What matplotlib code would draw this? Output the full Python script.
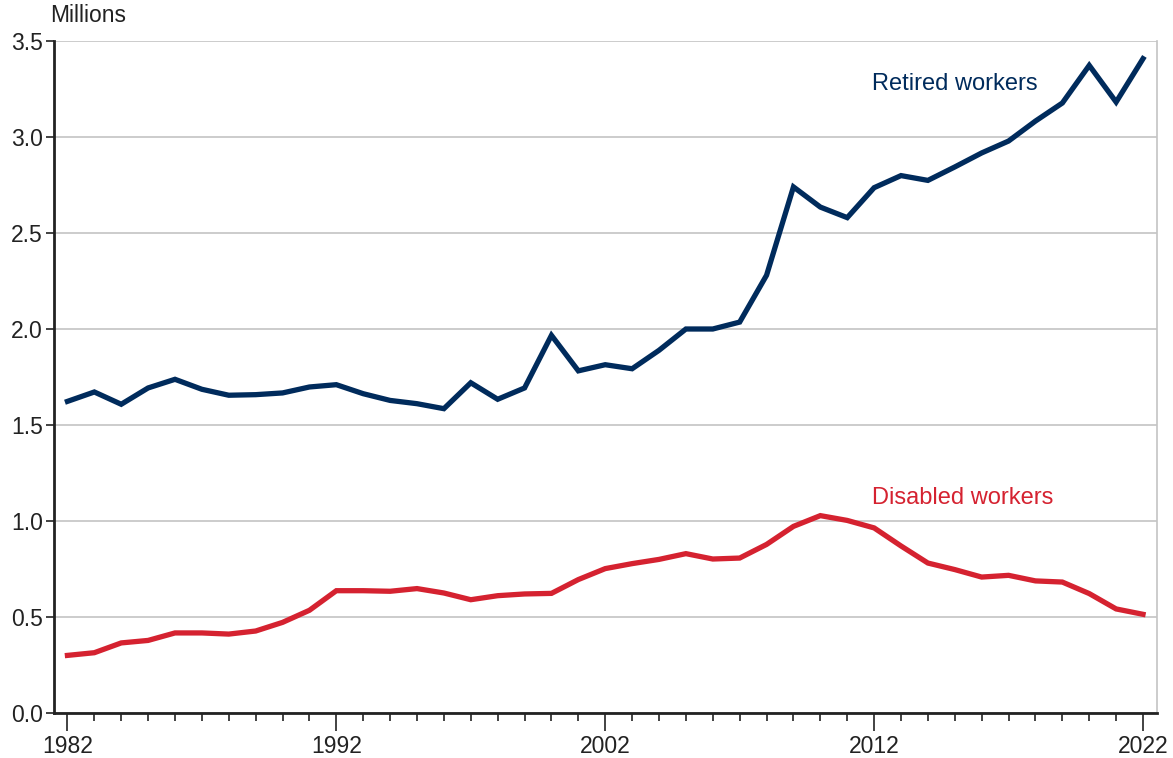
import numpy as np
import matplotlib
matplotlib.use('Agg')
import matplotlib.pyplot as plt
from matplotlib.ticker import FixedLocator

plt.rcParams['font.family'] = ['Liberation Sans', 'DejaVu Sans']

years = list(range(1982, 2023))

retired = [1.623, 1.672, 1.608, 1.693, 1.738, 1.686, 1.655, 1.658, 1.667, 1.698,
           1.710, 1.663, 1.628, 1.611, 1.585, 1.720, 1.634, 1.693, 1.967, 1.782,
           1.814, 1.793, 1.889, 2.000, 2.000, 2.036, 2.280, 2.740, 2.635, 2.580,
           2.736, 2.799, 2.774, 2.844, 2.917, 2.979, 3.083, 3.177, 3.373, 3.182,
           3.408]

disabled = [0.300, 0.314, 0.365, 0.378, 0.417, 0.417, 0.411, 0.427, 0.472, 0.535,
            0.637, 0.637, 0.634, 0.648, 0.625, 0.590, 0.611, 0.620, 0.623, 0.695,
            0.752, 0.778, 0.800, 0.830, 0.802, 0.807, 0.878, 0.972, 1.028, 1.003,
            0.964, 0.870, 0.781, 0.747, 0.708, 0.717, 0.688, 0.682, 0.622, 0.542,
            0.514]

major_years = [1982, 1992, 2002, 2012, 2022]
yticks = [0.0, 0.5, 1.0, 1.5, 2.0, 2.5, 3.0, 3.5]

navy = '#002b5c'
red = '#d52230'

fig = plt.figure(figsize=(11.73, 7.58), dpi=100)
ax = fig.add_axes([54/1173, 1 - 713/758, (1157-54)/1173, (713-41)/758])

ax.plot(years, retired, color=navy, lw=3.8, solid_joinstyle='miter', zorder=3)
ax.plot(years, disabled, color=red, lw=3.8, solid_joinstyle='miter', zorder=3)

ax.set_xlim(1981.5, 2022.52)
ax.set_ylim(0, 3.5)

ax.yaxis.set_major_locator(FixedLocator(yticks))
ax.set_yticklabels(['%.1f' % v for v in yticks])
ax.grid(axis='y', color='#c4c4c4', lw=1.2, zorder=0)

ax.xaxis.set_major_locator(FixedLocator(major_years))
ax.xaxis.set_minor_locator(FixedLocator(years))
ax.set_xticklabels([str(y) for y in major_years])

ax.tick_params(axis='x', which='major', length=13, width=1.2, color='#222222',
               labelsize=16.5, pad=3, labelcolor='#222222')
ax.tick_params(axis='x', which='minor', length=6, width=1.2, color='#222222')
ax.tick_params(axis='y', which='major', length=6, width=1.2, color='#222222',
               labelsize=16.5, pad=2, labelcolor='#222222')

for s in ['left', 'bottom']:
    ax.spines[s].set_color('#222222')
    ax.spines[s].set_linewidth(2)
ax.spines['right'].set_color('#c4c4c4')
ax.spines['right'].set_linewidth(1.2)
ax.spines['top'].set_visible(False)

fig.text(50/1173, 1 - 16/758, 'Millions', fontsize=16.5, color='#222222',
         ha='left', va='center')

ax.text(2011.92, 3.275, 'Retired workers', color=navy, fontsize=17,
        ha='left', va='center')
ax.text(2011.92, 1.12, 'Disabled workers', color=red, fontsize=17,
        ha='left', va='center')

fig.savefig('out.png', dpi=100)
